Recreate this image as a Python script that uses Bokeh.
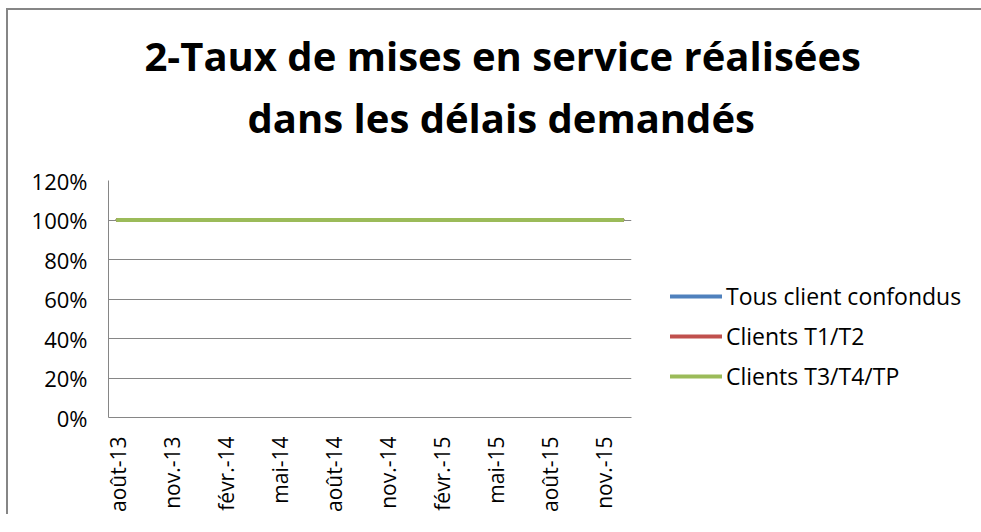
from bokeh.plotting import figure
from bokeh.models import Legend, LegendItem, FixedTicker, Title, Range1d
from bokeh.embed import file_html
from bokeh.resources import INLINE

# --- data -------------------------------------------------------------
months = ["août-13", "sept.-13", "oct.-13", "nov.-13", "déc.-13",
          "janv.-14", "févr.-14", "mars-14", "avr.-14", "mai-14", "juin-14",
          "juil.-14", "août-14", "sept.-14", "oct.-14", "nov.-14", "déc.-14",
          "janv.-15", "févr.-15", "mars-15", "avr.-15", "mai-15", "juin-15",
          "juil.-15", "août-15", "sept.-15", "oct.-15", "nov.-15", "déc.-15"]
shown_labels = ["août-13", "nov.-13", "févr.-14", "mai-14", "août-14",
                "nov.-14", "févr.-15", "mai-15", "août-15", "nov.-15"]
tous_clients = [1.00, 1.00, 1.00, 1.00, 1.00, 1.00, 1.00, 1.00, 1.00, 1.00,
                1.00, 1.00, 1.00, 1.00, 1.00, 1.00, 1.00, 1.00, 1.00, 1.00,
                1.00, 1.00, 1.00, 1.00, 1.00, 1.00, 1.00, 1.00, 1.00]
clients_t1_t2 = [1.00, 1.00, 1.00, 1.00, 1.00, 1.00, 1.00, 1.00, 1.00, 1.00,
                 1.00, 1.00, 1.00, 1.00, 1.00, 1.00, 1.00, 1.00, 1.00, 1.00,
                 1.00, 1.00, 1.00, 1.00, 1.00, 1.00, 1.00, 1.00, 1.00]
clients_t3_t4_tp = [1.00, 1.00, 1.00, 1.00, 1.00, 1.00, 1.00, 1.00, 1.00, 1.00,
                    1.00, 1.00, 1.00, 1.00, 1.00, 1.00, 1.00, 1.00, 1.00, 1.00,
                    1.00, 1.00, 1.00, 1.00, 1.00, 1.00, 1.00, 1.00, 1.00]
series_names = ["Tous client confondus", "Clients T1/T2", "Clients T3/T4/TP"]
y_ticks = [0.0, 0.2, 0.4, 0.6, 0.8, 1.0, 1.2]
y_labels = ["0%", "20%", "40%", "60%", "80%", "100%", "120%"]
title_line1 = "2-Taux de mises en service réalisées"
title_line2 = "dans les délais demandés"

FONT = "Open Sans"
GRID = "#868686"

x = list(range(len(months)))

p = figure(frame_width=523, frame_height=237,
           min_border_left=100, min_border_right=330,
           min_border_top=170, min_border_bottom=95,
           output_backend="svg", toolbar_location=None,
           x_range=Range1d(-0.5, len(months) - 0.5),
           y_range=Range1d(0, 1.2),
           title=" ")
p.styles = {"border-left": "2px solid #868686", "border-top": "2px solid #868686",
            "margin-left": "6px", "margin-top": "8px"}

# p.title is only a tiny spacer at the very top; the two title lines follow
p.title.text_font_size = "1px"
p.title.standoff = 2

p.add_layout(Title(text=title_line2, text_font=FONT, text_font_size="40px",
                   text_font_style="bold", align="left", offset=139,
                   standoff=71, text_color="black"), "above")
p.add_layout(Title(text=title_line1, text_font=FONT, text_font_size="40px",
                   text_font_style="bold", align="left", offset=36,
                   standoff=-60, text_color="black"), "above")

p.outline_line_color = None
p.background_fill_color = "white"
p.border_fill_color = "white"

# axes
p.yaxis.ticker = FixedTicker(ticks=y_ticks)
p.yaxis.major_label_overrides = {t: l for t, l in zip(y_ticks, y_labels)}
p.yaxis.major_label_text_font = FONT
p.yaxis.major_label_text_font_size = "22px"
p.yaxis.major_label_text_color = "black"
p.yaxis.major_label_standoff = 15
p.yaxis.axis_line_color = GRID
p.yaxis.major_tick_line_color = None
p.yaxis.minor_tick_line_color = None

tick_pos = [months.index(m) for m in shown_labels]
p.xaxis.ticker = FixedTicker(ticks=tick_pos)
p.xaxis.major_label_overrides = {i: months[i] for i in tick_pos}
p.xaxis.major_label_orientation = 3.14159265 / 2
p.xaxis.major_label_text_font = FONT
p.xaxis.major_label_text_font_size = "21px"
p.xaxis.major_label_text_color = "black"
p.xaxis.major_label_standoff = 13
p.xaxis.axis_line_color = GRID
p.xaxis.major_tick_line_color = None
p.xaxis.minor_tick_line_color = None

p.xgrid.grid_line_color = None
p.ygrid.grid_line_color = GRID
p.ygrid.grid_line_width = 1

colors = ["#4F81BD", "#C0504D", "#9BBB59"]
renderers = []
for vals, c in zip([tous_clients, clients_t1_t2, clients_t3_t4_tp], colors):
    r = p.line(x, vals, line_color=c, line_width=4, line_cap="round")
    renderers.append(r)

legend = Legend(items=[LegendItem(label=n, renderers=[r]) for n, r in zip(series_names, renderers)],
                location=(39, 25), padding=0, margin=0, spacing=8,
                glyph_width=52, glyph_height=20, label_standoff=4,
                label_text_font=FONT, label_text_font_size="23px",
                label_text_color="black", border_line_color=None,
                background_fill_alpha=0)
p.add_layout(legend, "right")

open("out.html", "w").write(file_html(p, INLINE))
